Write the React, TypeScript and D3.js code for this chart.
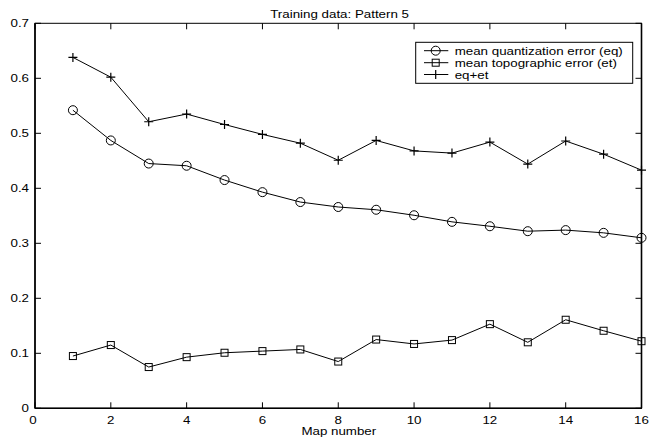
import React from "react";
import * as d3 from "d3";

const mapNumbers = [1, 2, 3, 4, 5, 6, 7, 8, 9, 10, 11, 12, 13, 14, 15, 16];
const eqValues = [0.542, 0.487, 0.445, 0.441, 0.415, 0.393, 0.375, 0.366, 0.361, 0.351, 0.339, 0.331, 0.322, 0.324, 0.319, 0.310];
const etValues = [0.095, 0.115, 0.075, 0.093, 0.101, 0.104, 0.107, 0.085, 0.125, 0.117, 0.124, 0.153, 0.120, 0.161, 0.141, 0.122];
const sumValues = [0.638, 0.602, 0.521, 0.535, 0.516, 0.498, 0.482, 0.451, 0.487, 0.468, 0.464, 0.484, 0.444, 0.486, 0.462, 0.433];
const xTicks = [0, 2, 4, 6, 8, 10, 12, 14, 16];
const yTicks = [0, 0.1, 0.2, 0.3, 0.4, 0.5, 0.6, 0.7];
const legendLabels = ["mean quantization error (eq)", "mean topographic error (et)", "eq+et"];
const titleText = "Training data: Pattern 5";
const xLabelText = "Map number";

const W = 659;
const H = 441;
const L = 35;
const R = 641.5;
const T = 23.3;
const B = 408.3;
const FONT = "'Liberation Sans', Arial, Helvetica, sans-serif";
const FS = 11.5;
const SX = 1.16;

function STxt({ x, y, anchor, children, size = FS }: any) {
  return (
    <text
      transform={`translate(${x},${y}) scale(${SX},1)`}
      textAnchor={anchor}
      fontFamily={FONT}
      fontSize={size}
      fill="#000"
    >
      {children}
    </text>
  );
}

function Marker({ kind, cx, cy }: any) {
  if (kind === "circle") return <circle cx={cx} cy={cy} r={4.5} fill="none" stroke="#000" strokeWidth={1} />;
  if (kind === "square") return <rect x={cx - 3.5} y={cy - 3.5} width={7} height={7} fill="none" stroke="#000" strokeWidth={1} />;
  return (
    <path d={`M${cx - 4.5},${cy}H${cx + 4.5}M${cx},${cy - 4.5}V${cy + 4.5}`} stroke="#000" strokeWidth={1.2} fill="none" />
  );
}

export default function App() {
  const x = d3.scaleLinear().domain([0, 16]).range([L, R]);
  const y = d3.scaleLinear().domain([0, 0.7]).range([B, T]);
  const series = [
    { kind: "circle", values: eqValues, label: legendLabels[0] },
    { kind: "square", values: etValues, label: legendLabels[1] },
    { kind: "plus", values: sumValues, label: legendLabels[2] },
  ];
  const line = d3
    .line<number>()
    .x((_, i) => x(mapNumbers[i]))
    .y((d) => y(d));
  const tick = 6;
  const lgX = 415.7;
  const lgY = 42.3;
  const lgW = 217;
  const lgH = 41;
  const rowY = [50.7, 62.7, 74.5];
  return (
    <svg width={W} height={H} style={{ position: "fixed", left: 0, top: 0, background: "#fff" }}>
      <rect x={0} y={0} width={W} height={H} fill="#fff" />
      {/* frame */}
      <rect x={L} y={T} width={R - L} height={B - T} fill="none" stroke="#000" strokeWidth={1} />
      <line x1={L} y1={T} x2={L} y2={B} stroke="#000" strokeWidth={1.6} />
      <line x1={L} y1={B} x2={R} y2={B} stroke="#000" strokeWidth={1.6} />
      <line x1={R} y1={T} x2={R} y2={B} stroke="#000" strokeWidth={1.6} />
      {xTicks.map((t) => (
        <g key={"xt" + t}>
          <line x1={x(t)} y1={B} x2={x(t)} y2={B - tick} stroke="#000" strokeWidth={1} />
          <line x1={x(t)} y1={T} x2={x(t)} y2={T + tick} stroke="#000" strokeWidth={1} />
          <STxt x={x(t) - (t === 0 ? 2 : 0)} y={423.5} anchor="middle">{String(t)}</STxt>
        </g>
      ))}
      {yTicks.map((t) => (
        <g key={"yt" + t}>
          <line x1={L} y1={y(t)} x2={L + tick} y2={y(t)} stroke="#000" strokeWidth={1} />
          <line x1={R} y1={y(t)} x2={R - tick} y2={y(t)} stroke="#000" strokeWidth={1} />
          <STxt x={29} y={y(t) + 4} anchor="end">{t === 0 ? "0" : t.toFixed(1)}</STxt>
        </g>
      ))}
      {series.map((s) => (
        <g key={s.kind}>
          <path d={line(s.values) || ""} fill="none" stroke="#000" strokeWidth={1} />
          {s.values.map((v, i) => (
            <Marker key={i} kind={s.kind} cx={x(mapNumbers[i])} cy={y(v)} />
          ))}
        </g>
      ))}
      {/* legend */}
      <rect x={lgX} y={lgY} width={lgW} height={lgH} fill="#fff" stroke="#000" strokeWidth={1} />
      {series.map((s, i) => (
        <g key={"lg" + s.kind}>
          <line x1={424} y1={rowY[i]} x2={448.3} y2={rowY[i]} stroke="#000" strokeWidth={1} />
          <Marker kind={s.kind} cx={435.7} cy={rowY[i]} />
          <STxt x={454.7} y={rowY[i] + 4} anchor="start">{s.label}</STxt>
        </g>
      ))}
      <STxt x={339.6} y={18.3} anchor="middle">{titleText}</STxt>
      <STxt x={338.8} y={435} anchor="middle">{xLabelText}</STxt>
    </svg>
  );
}
